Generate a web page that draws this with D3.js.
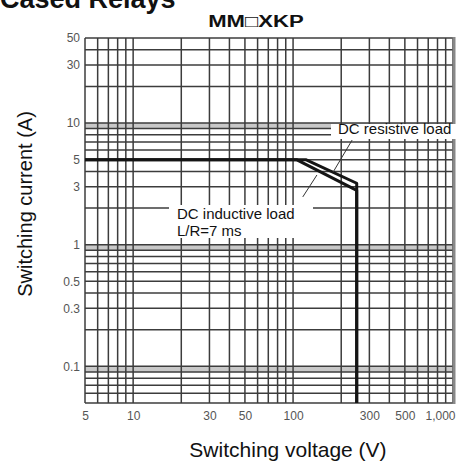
<!DOCTYPE html>
<html><head><meta charset="utf-8">
<script src="https://cdn.jsdelivr.net/npm/d3@7/dist/d3.min.js"></script>
<style>body{margin:0;background:#fff}svg{display:block}</style>
</head><body><svg id="c" width="465" height="466"></svg>
<script>
// ---- data ----
const xTickValues = [5, 10, 30, 50, 100, 300, 500, 1000];
const xTickLabels = ["5", "10", "30", "50", "100", "300", "500", "1,000"];
const yTickValues = [0.1, 0.3, 0.5, 1, 3, 5, 10, 30, 50];
const yTickLabels = ["0.1", "0.3", "0.5", "1", "3", "5", "10", "30", "50"];
const xGridValues = [5,6,7,8,9,10,20,30,40,50,60,70,80,90,100,200,300,400,500,600,700,800,900,1000];
const yGridValues = [0.05,0.06,0.07,0.08,0.09,0.1,0.2,0.3,0.4,0.5,0.6,0.7,0.8,0.9,1,2,3,4,5,6,7,8,9,10,20,30,40,50];
const yBandLow = [0.09, 0.9, 9];
const yBandHigh = [0.1, 1, 10];
const resistiveV = [5, 120, 250, 250];
const resistiveI = [5, 5, 3.2, 0.05];
const inductiveV = [5, 105, 250, 250];
const inductiveI = [5, 5, 2.8, 0.05];
const leaderResV = [234, 178], leaderResI = [7.25, 3.95];
const leaderIndV = [115, 141], leaderIndI = [2.47, 3.74];

// ---- layout ----
const svg = d3.select("#c");
const L = 85, R = 453, T = 38, B = 403;
const x = d3.scaleLog().domain([5, 1000]).range([L, R]);
const y = d3.scaleLog().domain([0.05, 50]).range([B, T]);
const font = "Liberation Sans, Arial, sans-serif";

// partial header (cut off at top, as in the source page)
svg.append("text").attr("x", 0).attr("y", 8)
  .attr("font-family", font).attr("font-weight", "bold")
  .attr("font-size", 27).attr("fill", "#111").text("Cased Relays");

svg.append("text").attr("transform", "translate(256,27) scale(1.3,1)").attr("text-anchor", "middle")
  .attr("font-family", "Liberation Sans, Arial, DejaVu Sans, sans-serif").attr("font-weight", "bold")
  .attr("font-size", 17).attr("fill", "#111").text("MM\u25A1XKP");

// bands
const g = svg.append("g");
g.selectAll("rect.band").data(yBandLow).join("rect").attr("class", "band")
  .attr("x", L).attr("width", R - L)
  .attr("y", (d, i) => y(yBandHigh[i])).attr("height", (d, i) => y(d) - y(yBandHigh[i]))
  .attr("fill", "#c8c8c8");

// grid
g.selectAll("line.hg").data(yGridValues).join("line").attr("class", "hg")
  .attr("x1", L).attr("x2", R).attr("y1", d => y(d)).attr("y2", d => y(d))
  .attr("stroke", "#3c3c3c").attr("stroke-width", 1.5);
g.selectAll("line.vg").data(xGridValues).join("line").attr("class", "vg")
  .attr("y1", T).attr("y2", B).attr("x1", d => x(d)).attr("x2", d => x(d))
  .attr("stroke", "#3c3c3c").attr("stroke-width", 1.5);
// right border
g.append("line").attr("x1", R + 1).attr("x2", R + 1).attr("y1", T - 1).attr("y2", B + 1)
  .attr("stroke", "#888").attr("stroke-width", 3);

// axes (tick labels)
const xAxis = d3.axisBottom(x).tickValues(xTickValues)
  .tickFormat((d, i) => xTickLabels[i]).tickSize(0).tickPadding(6);
const xa = svg.append("g").attr("transform", `translate(0,${B + 2})`).call(xAxis);
xa.select(".domain").remove();
xa.selectAll("text").attr("font-family", "Liberation Sans Narrow, Liberation Sans, Arial, sans-serif")
  .attr("font-size", 12).attr("fill", "#555");
xa.selectAll("text").filter(d => d === 1000).attr("text-anchor", "end").attr("dx", 2);

const yAxis = d3.axisLeft(y).tickValues(yTickValues)
  .tickFormat((d, i) => yTickLabels[i]).tickSize(0).tickPadding(4);
const ya = svg.append("g").attr("transform", `translate(${L - 1},0)`).call(yAxis);
ya.select(".domain").remove();
ya.selectAll("text").attr("font-family", "Liberation Sans Narrow, Liberation Sans, Arial, sans-serif")
  .attr("font-size", 12).attr("fill", "#555");

// curves
const line = d3.line().x(d => x(d[0])).y(d => y(d[1]));
const resPts = resistiveV.map((v, i) => [v, resistiveI[i]]);
const indPts = inductiveV.map((v, i) => [v, inductiveI[i]]);
[resPts, indPts].forEach(p => {
  svg.append("path").attr("d", line(p)).attr("fill", "none")
    .attr("stroke", "#151515").attr("stroke-width", 3)
    .attr("stroke-linejoin", "round");
});

// leaders
[[leaderResV, leaderResI], [leaderIndV, leaderIndI]].forEach(([v, c]) => {
  svg.append("line").attr("x1", x(v[0])).attr("y1", y(c[0]))
    .attr("x2", x(v[1])).attr("y2", y(c[1]))
    .attr("stroke", "#333").attr("stroke-width", 1);
});

// labels
svg.append("rect").attr("x", 331).attr("y", 124).attr("width", 134).attr("height", 15).attr("fill", "#fff");
svg.append("text").attr("x", 338).attr("y", 134).attr("font-family", font).attr("font-size", 15)
  .attr("fill", "#111").text("DC resistive load");

svg.append("rect").attr("x", 169).attr("y", 205).attr("width", 144).attr("height", 33).attr("fill", "#fff");
svg.append("text").attr("x", 177).attr("y", 219).attr("font-family", font).attr("font-size", 15)
  .attr("fill", "#111").text("DC inductive load");
svg.append("text").attr("x", 177).attr("y", 236).attr("font-family", font).attr("font-size", 15)
  .attr("fill", "#111").text("L/R=7 ms");

// axis titles
svg.append("text").attr("x", 288).attr("y", 457).attr("text-anchor", "middle")
  .attr("font-family", font).attr("font-size", 21).attr("fill", "#111").text("Switching voltage (V)");
svg.append("text").attr("transform", "translate(32,204) rotate(-90)").attr("text-anchor", "middle")
  .attr("font-family", font).attr("font-size", 20).attr("fill", "#111").text("Switching current (A)");
</script></body></html>
